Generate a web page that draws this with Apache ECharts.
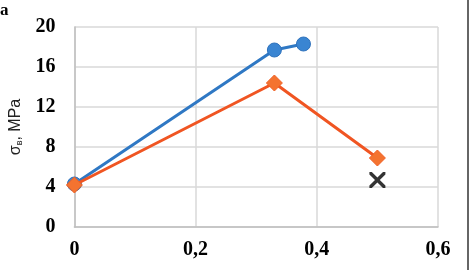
<!DOCTYPE html>
<html>
<head>
<meta charset="utf-8">
<script src="https://cdn.jsdelivr.net/npm/echarts@6/dist/echarts.min.js"></script>
<style>
html,body{margin:0;padding:0;background:#fff;}
#c{width:474px;height:270px;}
</style>
</head>
<body>
<div id="c"></div>
<script>
var blueX = [0, 0.33, 0.378];
var blueY = [4.3, 17.7, 18.3];
var orangeX = [0, 0.33, 0.5];
var orangeY = [4.2, 14.4, 6.9];
var crossX = [0.5];
var crossY = [4.7];
var xTicks = [0, 0.2, 0.4, 0.6];
var yTicks = [0, 4, 8, 12, 16, 20];

function pairs(xs, ys){ return xs.map(function(x,i){ return [x, ys[i]]; }); }

var chart = echarts.init(document.getElementById('c'), null, {renderer:'canvas'});
var serif = '"Liberation Serif", "DejaVu Serif", serif';
var sans = 'Arial, "Liberation Sans", sans-serif';
chart.setOption({
  animation: false,
  backgroundColor: '#fff',
  grid: {left: 68, right: 36, top: 27, bottom: 43, containLabel: false},
  graphic: [
    {type:'text', left: 0, top: 2, style:{text:'a', font:'bold 17px ' + serif, fill:'#000'}},
    {type:'line', shape:{x1:468, y1:0, x2:468, y2:270}, style:{stroke:'#333', lineWidth:1.5}}
  ],
  xAxis: {
    type: 'value', min: xTicks[0], max: xTicks[xTicks.length-1], interval: 0.2,
    axisLine: {show: true, onZero: false, lineStyle: {color: '#bfbfbf', width: 1.5}},
    axisTick: {show: false},
    splitLine: {show: true, lineStyle: {color: '#d9d9d9', width: 1.5}},
    axisLabel: {
      margin: 13, color: '#000', fontFamily: serif, fontWeight: 'bold', fontSize: 20,
      formatter: function(v){ var s = String(+v.toFixed(1)); return s.replace('.', ','); }
    }
  },
  yAxis: {
    type: 'value', min: yTicks[0], max: yTicks[yTicks.length-1], interval: 4,
    name: '{a|σ}{s|в}{a|, MPa}', nameLocation: 'middle', nameGap: 46, nameRotate: 90,
    nameTextStyle: {rich: {
      a: {fontFamily: sans, fontSize: 16, color: '#222'},
      s: {fontFamily: sans, fontSize: 9, color: '#222', verticalAlign: 'bottom', padding:[8,0,0,0]}
    }},
    axisLine: {show: true, lineStyle: {color: '#bfbfbf', width: 1.5}},
    axisTick: {show: false},
    splitLine: {show: true, lineStyle: {color: '#d9d9d9', width: 1.5}},
    axisLabel: {margin: 19, color: '#000', fontFamily: serif, fontWeight: 'bold', fontSize: 20}
  },
  series: [
    {
      type: 'line', data: pairs(blueX, blueY), symbol: 'circle', symbolSize: 14,
      lineStyle: {color: '#2F78C4', width: 3}, itemStyle: {color: '#3A85D2', borderColor:'#2F72BC', borderWidth:1}, z: 2
    },
    {
      type: 'line', data: pairs(orangeX, orangeY), symbol: 'diamond', symbolSize: [16, 16],
      lineStyle: {color: '#F05522', width: 3}, itemStyle: {color: '#F47330', borderColor:'#F06025', borderWidth:1}, z: 3
    },
    {
      type: 'scatter', data: pairs(crossX, crossY),
      symbol: 'path://M0,0 L3,0 L10,7 L17,0 L20,0 L20,3 L13,10 L20,17 L20,20 L17,20 L10,13 L3,20 L0,20 L0,17 L7,10 L0,3 Z',
      symbolSize: 16, itemStyle: {color: '#000'}, z: 4
    }
  ]
});
</script>
</body>
</html>
